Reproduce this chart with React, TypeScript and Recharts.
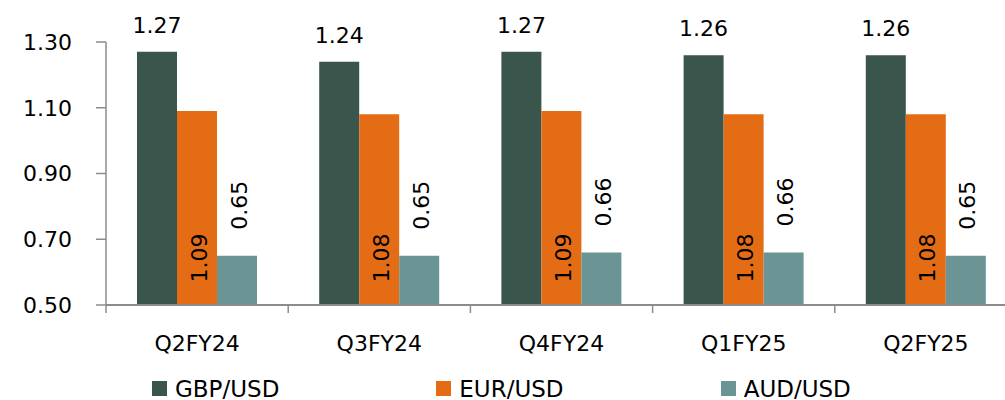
import React from 'react';
import { BarChart, Bar, XAxis, YAxis, Legend, LabelList } from 'recharts';

const quarters = ['Q2FY24', 'Q3FY24', 'Q4FY24', 'Q1FY25', 'Q2FY25'];
const seriesNames = ['GBP/USD', 'EUR/USD', 'AUD/USD'];
const gbpUsd = [1.27, 1.24, 1.27, 1.26, 1.26];
const eurUsd = [1.09, 1.08, 1.09, 1.08, 1.08];
const audUsd = [0.65, 0.65, 0.66, 0.66, 0.65];
const yTicks = [0.5, 0.7, 0.9, 1.1, 1.3];

const rows = quarters.map((q, i) => ({
  quarter: q,
  gbp: gbpUsd[i],
  eur: eurUsd[i],
  aud: audUsd[i],
}));

const FONT = '"DejaVu Sans", sans-serif';
const AXIS_GREY = '#8c8c8c';
const X_TICK_SIZE = 8;
const X_TICK_MARGIN = 22;

const fmt = (v: any) => Number(v).toFixed(2);

// category labels in the middle, small tick marks on the category borders
const XTick = (props: any) => {
  const { x, y, payload, index, visibleTicksCount, width } = props;
  const half = width / visibleTicksCount / 2;
  const axisY = y - X_TICK_MARGIN - X_TICK_SIZE;
  const left = x - half;
  const right = x + half;
  return (
    <g>
      <line x1={left} x2={left} y1={axisY} y2={axisY + X_TICK_SIZE} stroke={AXIS_GREY} strokeWidth={1.5} />
      {index === visibleTicksCount - 1 && (
        <line x1={right} x2={right} y1={axisY} y2={axisY + X_TICK_SIZE} stroke={AXIS_GREY} strokeWidth={1.5} />
      )}
      <text x={x} y={y} dy="0.73em" textAnchor="middle" fontSize={22} fontFamily={FONT} fill="#000">
        {payload.value}
      </text>
    </g>
  );
};

const GbpLabel = (p: any) => (
  <text x={p.x + p.width / 2} y={p.y - 19} textAnchor="middle" fontSize={22} fontFamily={FONT} fill="#000">
    {fmt(p.value)}
  </text>
);

const EurLabel = (p: any) => {
  const cx = p.x + p.width / 2 + 2;
  const cy = p.y + p.height - 47;
  return (
    <text
      x={cx}
      y={cy}
      transform={`rotate(-90 ${cx} ${cy})`}
      textAnchor="middle"
      dominantBaseline="central"
      fontSize={22}
      fontFamily={FONT}
      fill="#000"
    >
      {fmt(p.value)}
    </text>
  );
};

const AudLabel = (p: any) => {
  const cx = p.x + p.width / 2 + 2;
  const cy = p.y - 26;
  return (
    <text
      x={cx}
      y={cy}
      transform={`rotate(-90 ${cx} ${cy})`}
      textAnchor="start"
      dominantBaseline="central"
      fontSize={22}
      fontFamily={FONT}
      fill="#000"
    >
      {fmt(p.value)}
    </text>
  );
};

const renderLegend = (props: any) => {
  // keep the series order (recharts sorts legend items by name otherwise)
  const items = [...props.payload].sort(
    (a: any, b: any) => seriesNames.indexOf(a.value) - seriesNames.indexOf(b.value)
  );
  return (
    <div
      style={{
        display: 'flex',
        height: 35,
        boxSizing: 'border-box',
        paddingTop: 12,
        paddingLeft: 152,
        fontFamily: FONT,
        fontSize: 23,
        lineHeight: '22px',
      }}
    >
      {items.map((entry: any) => (
        <div key={entry.value} style={{ width: 290, display: 'flex', alignItems: 'center' }}>
          <span style={{ width: 15, height: 15, background: entry.color, marginRight: 8, display: 'inline-block' }} />
          <span>{entry.value}</span>
        </div>
      ))}
    </div>
  );
};

export default function App() {
  return (
    <div style={{ position: 'absolute', left: 0, top: 0 }}>
      <BarChart
        width={1005}
        height={400}
        data={rows}
        margin={{ top: 42, right: -12, left: 0, bottom: 0 }}
        barCategoryGap={31}
        barGap={0}
      >
        <XAxis
          dataKey="quarter"
          interval={0}
          height={60}
          tickLine={false}
          tickSize={X_TICK_SIZE}
          tickMargin={X_TICK_MARGIN}
          axisLine={{ stroke: AXIS_GREY, strokeWidth: 2 }}
          tick={<XTick />}
        />
        <YAxis
          width={106}
          domain={[0.5, 1.3]}
          ticks={yTicks}
          interval={0}
          tickFormatter={fmt}
          tickSize={10}
          tickMargin={24}
          tickLine={{ stroke: AXIS_GREY, strokeWidth: 1.5 }}
          axisLine={{ stroke: AXIS_GREY, strokeWidth: 1.5 }}
          tick={{ fontSize: 22, fontFamily: FONT, fill: '#000' }}
        />
        <Legend
          verticalAlign="bottom"
          align="left"
          wrapperStyle={{ left: 0, width: 1005, height: 35 }}
          content={renderLegend}
        />
        <Bar dataKey="gbp" name={seriesNames[0]} fill="#3a554b" isAnimationActive={false}>
          <LabelList dataKey="gbp" content={GbpLabel} />
        </Bar>
        <Bar dataKey="eur" name={seriesNames[1]} fill="#e46c14" isAnimationActive={false}>
          <LabelList dataKey="eur" content={EurLabel} />
        </Bar>
        <Bar dataKey="aud" name={seriesNames[2]} fill="#6b9594" isAnimationActive={false}>
          <LabelList dataKey="aud" content={AudLabel} />
        </Bar>
      </BarChart>
    </div>
  );
}
